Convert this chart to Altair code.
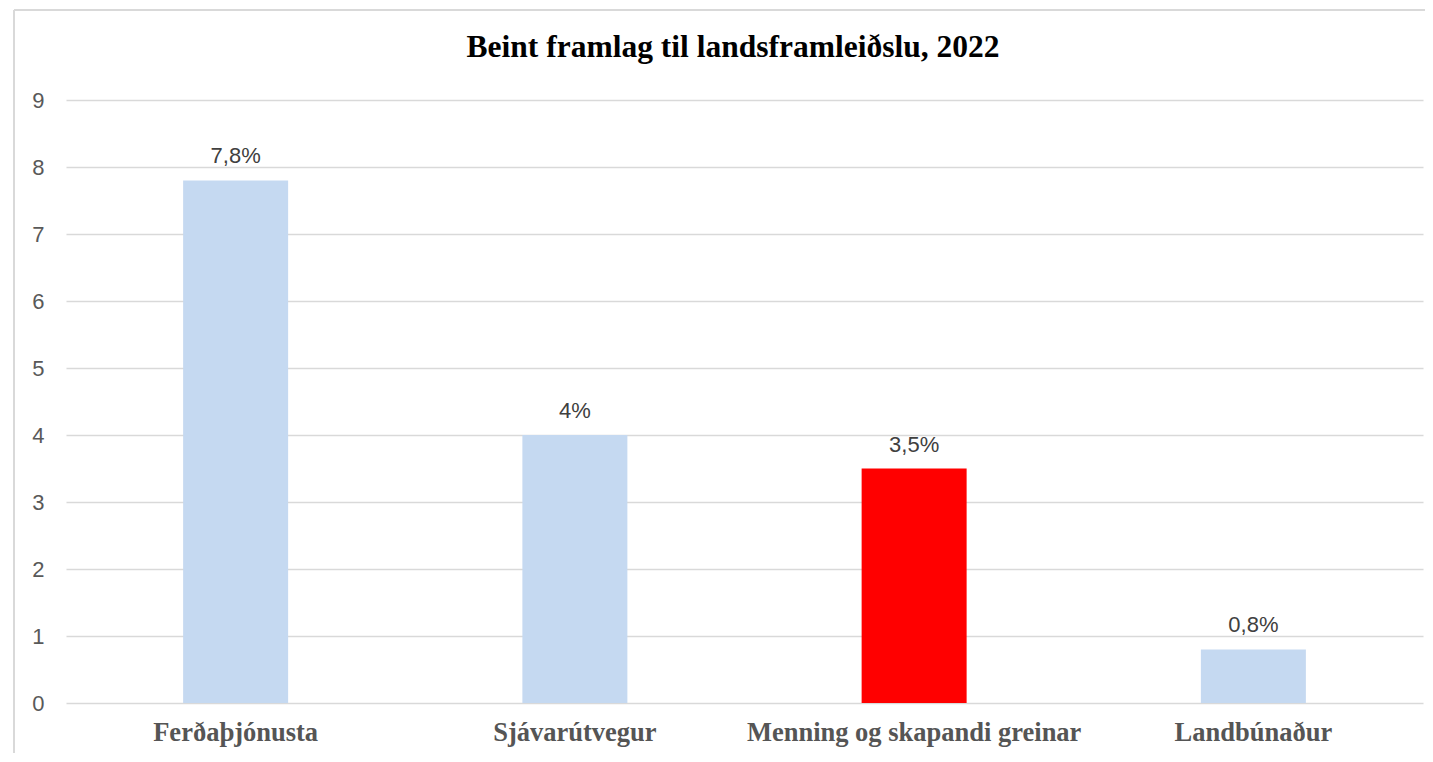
import altair as alt
import pandas as pd

title_text = "Beint framlag til landsframleiðslu, 2022"
categories = ["Ferðaþjónusta", "Sjávarútvegur", "Menning og skapandi greinar", "Landbúnaður"]
values = [7.8, 4.0, 3.5, 0.8]
labels = ["7,8%", "4%", "3,5%", "0,8%"]
colors = ["#c5d9f1", "#c5d9f1", "#ff0000", "#c5d9f1"]

df = pd.DataFrame({"cat": categories, "val": values, "lab": labels, "col": colors})

x = alt.X("cat:N", sort=categories, title=None,
          scale=alt.Scale(paddingInner=0.69, paddingOuter=0.345),
          axis=alt.Axis(labelAngle=0, labelFont="Liberation Serif", labelFontWeight="bold",
                        labelFontSize=26.5, labelColor="#555555", labelPadding=16, labelLimit=0,
                        ticks=False, domain=False, grid=False))
y = alt.Y("val:Q", title=None,
          scale=alt.Scale(domain=[0, 9], nice=False),
          axis=alt.Axis(values=list(range(10)), format="d", labelFont="Liberation Sans", labelFontSize=22,
                        labelColor="#595959", labelPadding=22, ticks=False, domain=False,
                        gridColor="#d9d9d9", gridWidth=1.5))

bars = alt.Chart(df).mark_bar(size=105).encode(
    x=x, y=y, color=alt.Color("col:N", scale=None)
)
text = alt.Chart(df).mark_text(baseline="bottom", dy=-12, font="Liberation Sans",
                               fontSize=22, color="#404040").encode(
    x=alt.X("cat:N", sort=categories), y="val:Q", text="lab:N"
)
border_top = alt.Chart(df).mark_rule(color="#d9d9d9", strokeWidth=2).encode(
    x=alt.value(-52), x2=alt.value(1380), y=alt.value(-90)
)
border_left = alt.Chart(df).mark_rule(color="#d9d9d9", strokeWidth=2).encode(
    x=alt.value(-52), y=alt.value(-90), y2=alt.value(680)
)
title = alt.Chart(pd.DataFrame({"t": [title_text]})).mark_text(
    font="Liberation Serif", fontSize=31.5, fontWeight="bold", color="#000000",
    align="center", baseline="middle"
).encode(x=alt.value(667), y=alt.value(-52), text="t:N")

chart = alt.layer(border_top, border_left, bars, text, title).properties(
    width=1357, height=603,
    autosize=alt.AutoSizeParams(type="none"),
    padding={"left": 58, "top": 92, "right": 2, "bottom": 50},
).configure(background="white").configure_view(stroke=None)

chart.save("out.html", embed_options={"renderer": "svg", "actions": False})
